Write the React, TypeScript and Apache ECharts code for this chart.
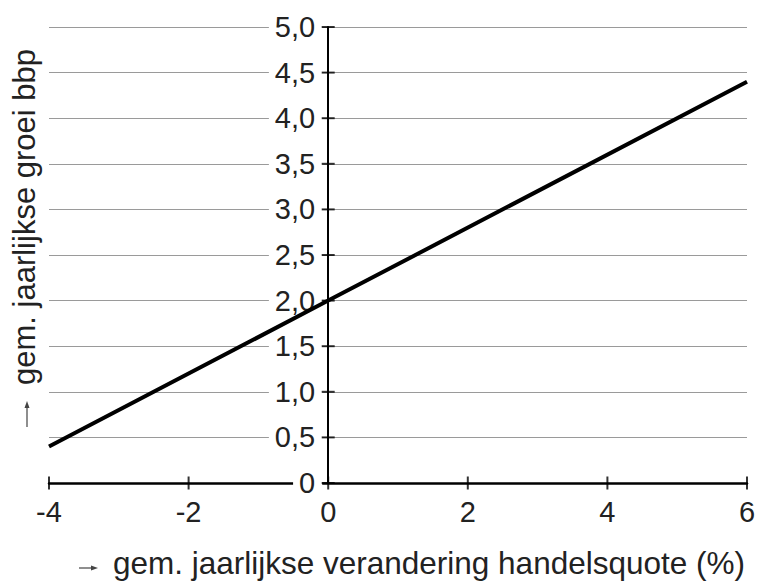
import React, { useEffect, useRef } from "react";
import * as echarts from "echarts";

const xValues = [-4, 0, 6];
const yValues = [0.4, 2.0, 4.4];
const xTicks = [-4, -2, 0, 2, 4, 6];
const yTicks = [0, 0.5, 1, 1.5, 2, 2.5, 3, 3.5, 4, 4.5, 5];
const yTickLabels = ["0", "0,5", "1,0", "1,5", "2,0", "2,5", "3,0", "3,5", "4,0", "4,5", "5,0"];
const xTitle = "gem. jaarlijkse verandering handelsquote (%)";
const yTitle = "gem. jaarlijkse groei bbp";

const FONT = "'Liberation Sans', Arial, Helvetica, sans-serif";
const TEXT = "#222";
const ARROW = "#444";

const W = 758;
const H = 582;
const GRID_LEFT = 49;
const GRID_RIGHT = 11;
const X_MIN = -4;
const X_MAX = 6;

export default function App() {
  const ref = useRef<HTMLDivElement>(null);
  useEffect(() => {
    if (!ref.current) return;
    const chart = echarts.init(ref.current, null, { renderer: "svg" });
    const fmtY = (v: number) => {
      const idx = Math.round(v / 0.5);
      return yTickLabels[idx] ?? "";
    };
    const gridW = W - GRID_LEFT - GRID_RIGHT;
    const yAxisOffset = -((0 - X_MIN) / (X_MAX - X_MIN)) * gridW;
    chart.setOption({
      animation: false,
      backgroundColor: "#fff",
      grid: {
        left: GRID_LEFT,
        right: GRID_RIGHT,
        top: 27,
        bottom: 99,
        containLabel: false,
        outerBoundsMode: "none",
      },
      xAxis: {
        type: "value",
        min: X_MIN,
        max: X_MAX,
        interval: 2,
        z: 0,
        axisLine: { show: true, onZero: false, lineStyle: { color: "#000", width: 2.5 } },
        axisTick: { show: false },
        axisLabel: { show: true, margin: 14, fontSize: 29, fontFamily: FONT, color: TEXT },
        splitLine: { show: false },
      },
      yAxis: {
        type: "value",
        min: 0,
        max: 5,
        interval: 0.5,
        position: "left",
        offset: yAxisOffset,
        z: 0,
        axisLine: { show: true, onZero: false, lineStyle: { color: "#000", width: 2 } },
        axisTick: { show: false },
        axisLabel: {
          show: true,
          margin: 6,
          fontSize: 29,
          fontFamily: FONT,
          color: TEXT,
          backgroundColor: "#fff",
          padding: [1, 7, 1, 6],
          formatter: fmtY,
        },
        splitLine: { show: true, lineStyle: { color: "#9a9a9a", width: 1 } },
      },
      series: [
        {
          type: "line",
          z: 4,
          data: xValues.map((x, i) => [x, yValues[i]]),
          symbol: "none",
          lineStyle: { color: "#000", width: 4 },
          silent: true,
        },
        {
          type: "scatter",
          z: 3,
          clip: false,
          silent: true,
          symbol: "rect",
          symbolSize: [13, 2],
          itemStyle: { color: "#000" },
          data: yTicks.map((y) => [0, y]),
        },
        {
          type: "scatter",
          z: 3,
          clip: false,
          silent: true,
          symbol: "rect",
          symbolSize: [2, 13],
          itemStyle: { color: "#000" },
          data: xTicks.map((x) => [x, 0]),
        },
      ],
      graphic: [
        {
          type: "text",
          x: 745,
          y: 563,
          style: {
            text: xTitle,
            fontSize: 31.5,
            fontFamily: FONT,
            fill: TEXT,
            align: "right",
            verticalAlign: "middle",
          },
        },
        {
          type: "line",
          shape: { x1: 79, y1: 568, x2: 94, y2: 568 },
          style: { stroke: ARROW, lineWidth: 1.2 },
        },
        {
          type: "polygon",
          shape: { points: [[98, 568], [91, 565.5], [91, 570.5]] },
          style: { fill: ARROW },
        },
        {
          type: "text",
          x: 24,
          y: 217,
          rotation: Math.PI / 2,
          style: {
            text: yTitle,
            fontSize: 31,
            fontFamily: FONT,
            fill: TEXT,
            align: "center",
            verticalAlign: "middle",
          },
        },
        {
          type: "line",
          shape: { x1: 27, y1: 427, x2: 27, y2: 406 },
          style: { stroke: ARROW, lineWidth: 1.2 },
        },
        {
          type: "polygon",
          shape: { points: [[27, 401], [24.5, 408], [29.5, 408]] },
          style: { fill: ARROW },
        },
      ],
    });
    return () => chart.dispose();
  }, []);
  return (
    <div
      ref={ref}
      style={{ position: "fixed", left: 0, top: 0, width: W, height: H }}
    />
  );
}
